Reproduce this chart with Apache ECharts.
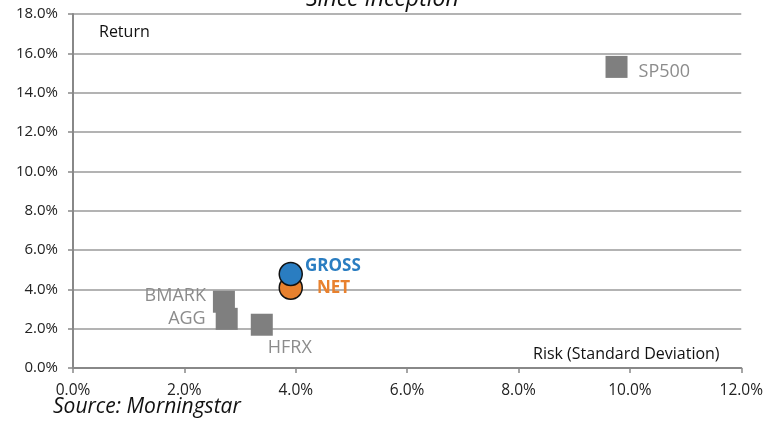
<!DOCTYPE html>
<html>
<head>
<meta charset="utf-8">
<script src="https://cdn.jsdelivr.net/npm/echarts@6/dist/echarts.min.js"></script>
<style>
html,body{margin:0;padding:0;background:#fff;}
#chart{width:766px;height:421px;}
</style>
</head>
<body>
<div id="chart"></div>
<script>
// Data (risk = standard deviation, return), in fractions
var benchNames = ['SP500', 'BMARK', 'AGG', 'HFRX'];
var benchRisk = [0.0976, 0.0271, 0.0276, 0.0339];
var benchReturn = [0.1531, 0.0337, 0.0250, 0.0220];

var fundNames = ['NET', 'GROSS'];
var fundRisk = [0.0391, 0.0391];
var fundReturn = [0.0408, 0.0478];

var xTicks = [0, 0.02, 0.04, 0.06, 0.08, 0.10, 0.12];
var yTicks = [0, 0.02, 0.04, 0.06, 0.08, 0.10, 0.12, 0.14, 0.16, 0.18];

var FONT = '"Open Sans", sans-serif';
var labelStyle = {
  SP500: {position: 'right', distance: 11, offset: [0, 5]},
  BMARK: {position: 'left', distance: 7, offset: [0, -6]},
  AGG: {position: 'left', distance: 10, offset: [0, 0]},
  HFRX: {position: 'bottom', distance: 3, offset: [28, 0]},
  NET: {position: 'right', distance: 14, offset: [0, 0], color: '#E8812E'},
  GROSS: {position: 'right', distance: 2, offset: [0, -8], color: '#2A7DC1'}
};
var fundColors = {NET: '#E8812E', GROSS: '#2A7DC1'};

function pct(v) { return (v * 100).toFixed(1) + '%'; }

var benchData = benchNames.map(function (n, i) {
  var ls = labelStyle[n];
  return {
    name: n,
    value: [benchRisk[i], benchReturn[i]],
    label: {show: true, formatter: n, position: ls.position, distance: ls.distance, offset: ls.offset,
      color: '#8c8c8c', fontSize: 18, fontFamily: FONT}
  };
});

var fundSeries = fundNames.map(function (n, i) {
  var ls = labelStyle[n];
  return {
    type: 'scatter',
    name: n,
    symbol: 'circle',
    symbolSize: 23,
    itemStyle: {color: fundColors[n], borderColor: '#111', borderWidth: 1.5, opacity: 1},
    label: {show: true, formatter: n, position: ls.position, distance: ls.distance, offset: ls.offset,
      color: ls.color, fontSize: 17, fontWeight: 'bold', fontFamily: FONT},
    data: [[fundRisk[i], fundReturn[i]]],
    z: 3 + i
  };
});

var chart = echarts.init(document.getElementById('chart'), null, {renderer: 'canvas'});
chart.setOption({
  animation: false,
  backgroundColor: '#fff',
  grid: {left: 73, right: 24, top: 14, bottom: 53, containLabel: false},
  xAxis: {
    type: 'value', min: xTicks[0], max: xTicks[xTicks.length - 1], interval: 0.02,
    axisLine: {show: true, onZero: false, lineStyle: {color: '#888', width: 2}},
    axisTick: {show: true, inside: false, length: 5, lineStyle: {color: '#888', width: 1.5}},
    splitLine: {show: false},
    axisLabel: {formatter: pct, color: '#222', fontSize: 15.5, fontFamily: FONT, margin: 15}
  },
  yAxis: {
    type: 'value', min: yTicks[0], max: yTicks[yTicks.length - 1], interval: 0.02,
    axisLine: {show: true, onZero: false, lineStyle: {color: '#888', width: 2}},
    axisTick: {show: true, inside: false, length: 5, lineStyle: {color: '#888', width: 1.5}},
    splitLine: {show: true, lineStyle: {color: '#9a9a9a', width: 1.5}},
    axisLabel: {formatter: pct, color: '#222', fontSize: 15, fontFamily: FONT, margin: 15}
  },
  graphic: [
    {type: 'text', left: 306, top: -12, z: 10,
      style: {text: 'Since Inception', font: 'italic 23px "Open Sans", sans-serif', fill: '#111'}},
    {type: 'text', left: 99, top: 24, z: 10,
      style: {text: 'Return', font: '16px "Open Sans", sans-serif', fill: '#111'}},
    {type: 'text', left: 533, top: 346, z: 10,
      style: {text: 'Risk (Standard Deviation)', font: '16px "Open Sans", sans-serif', fill: '#111'}},
    {type: 'text', left: 53, top: 397, z: 10,
      style: {text: 'Source: Morningstar', font: 'italic 21px "Open Sans", sans-serif', fill: '#111'}}
  ],
  series: [
    {
      type: 'scatter', name: 'Benchmarks', symbol: 'rect', symbolSize: 22,
      itemStyle: {color: '#7f7f7f', opacity: 1},
      data: benchData, z: 2
    }
  ].concat(fundSeries)
});
</script>
</body>
</html>
